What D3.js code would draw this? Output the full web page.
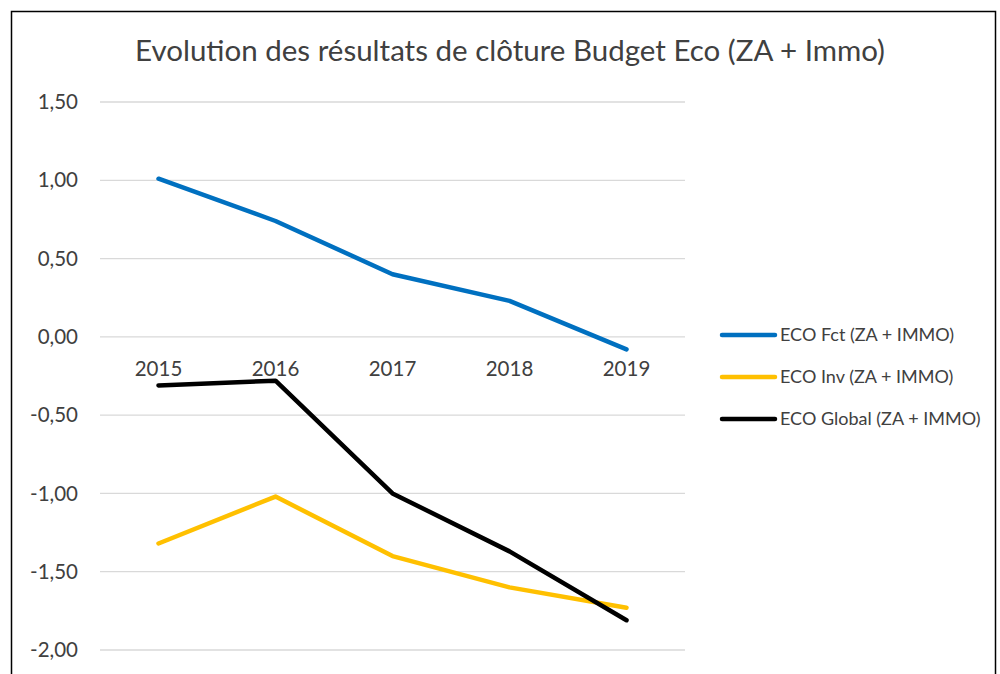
<!DOCTYPE html>
<html>
<head>
<meta charset="utf-8">
<script src="https://cdn.jsdelivr.net/npm/d3@7"></script>
<style>
  body { margin: 0; background: #fff; }
  svg text { font-family: Lato, "Open Sans", sans-serif; fill: #404040; }
</style>
</head>
<body>
<svg width="1000" height="674"></svg>
<script>
// data
const years = ['2015', '2016', '2017', '2018', '2019'];
const ecoFct = [1.01, 0.74, 0.40, 0.23, -0.08];
const ecoInv = [-1.32, -1.02, -1.40, -1.60, -1.73];
const ecoGlobal = [-0.31, -0.28, -1.00, -1.37, -1.81];
const yTicks = [1.5, 1.0, 0.5, 0.0, -0.5, -1.0, -1.5, -2.0];
const seriesNames = ['ECO Fct (ZA + IMMO)', 'ECO Inv (ZA + IMMO)', 'ECO Global (ZA + IMMO)'];
const seriesColors = ['#0070C0', '#FFC000', '#000000'];

const svg = d3.select('svg');

// chart frame
svg.append('rect')
  .attr('x', 11.5).attr('y', 11.5)
  .attr('width', 984).attr('height', 700)
  .attr('fill', 'none').attr('stroke', '#000').attr('stroke-width', 1.5);

const x = d3.scaleBand().domain(years).range([100, 685]);
const y = d3.scaleLinear().domain([-2, 1.5]).range([650, 102]);

// french style: comma decimal, plain hyphen for negatives
const fmt = d => d.toFixed(2).replace('.', ',');

// gridlines
svg.append('g').selectAll('line')
  .data(yTicks)
  .join('line')
  .attr('x1', 100).attr('x2', 685)
  .attr('y1', d => y(d)).attr('y2', d => y(d))
  .attr('stroke', '#d9d9d9').attr('stroke-width', 1.3);

// y tick labels
svg.append('g').selectAll('text')
  .data(yTicks)
  .join('text')
  .attr('x', 78)
  .attr('y', d => y(d))
  .attr('dy', '0.35em')
  .attr('text-anchor', 'end')
  .attr('font-size', 20.5)
  .text(fmt);

// category labels sit just below the zero line
svg.append('g').selectAll('text')
  .data(years)
  .join('text')
  .attr('x', d => x(d) + x.bandwidth() / 2)
  .attr('y', y(0) + 39)
  .attr('text-anchor', 'middle')
  .attr('font-size', 20.5)
  .text(d => d);

const series = [ecoFct, ecoInv, ecoGlobal];
const line = d3.line()
  .x((d, i) => x(years[i]) + x.bandwidth() / 2)
  .y(d => y(d));

series.forEach((vals, k) => {
  svg.append('path')
    .datum(vals)
    .attr('d', line)
    .attr('fill', 'none')
    .attr('stroke', seriesColors[k])
    .attr('stroke-width', 4.5)
    .attr('stroke-linejoin', 'round')
    .attr('stroke-linecap', 'round');
});

// title
svg.append('text')
  .attr('x', 510).attr('y', 61)
  .attr('text-anchor', 'middle')
  .attr('font-size', 29.5)
  .text('Evolution des résultats de clôture Budget Eco (ZA + Immo)');

// legend
const legend = svg.append('g').selectAll('g')
  .data(seriesNames)
  .join('g')
  .attr('transform', (d, i) => `translate(722, ${335 + i * 42})`);

legend.append('line')
  .attr('x1', 0).attr('x2', 53)
  .attr('stroke', (d, i) => seriesColors[i])
  .attr('stroke-width', 4.5)
  .attr('stroke-linecap', 'round');

legend.append('text')
  .attr('x', 58)
  .attr('dy', '0.35em')
  .attr('font-size', 18)
  .text(d => d);
</script>
</body>
</html>
